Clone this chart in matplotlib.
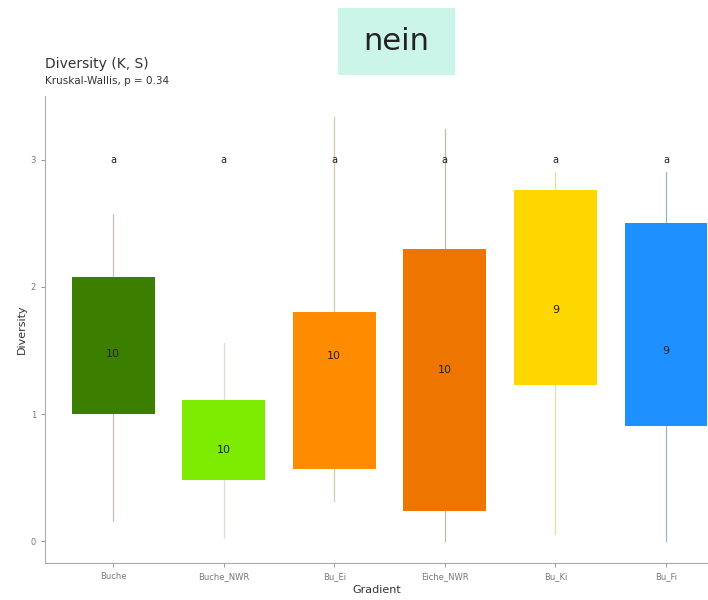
import matplotlib
matplotlib.use("Agg")
import matplotlib.pyplot as plt
from matplotlib.patches import FancyBboxPatch

categories = ["Buche", "Buche_NWR", "Bu_Ei", "Eiche_NWR", "Bu_Ki", "Bu_Fi"]
colors = ["#3C7F00", "#7CEB00", "#FF8C00", "#EE7600", "#FFD700", "#1E90FF"]
whisker_colors = ["#c8c0b8", "#e0dcc8", "#d8c8b0", "#c8b8a8", "#ecdca0", "#a0b4c8"]
q1 = [1.00, 0.48, 0.57, 0.24, 1.23, 0.91]
q3 = [2.08, 1.11, 1.80, 2.30, 2.76, 2.50]
whislo = [0.16, 0.03, 0.32, 0.00, 0.06, 0.00]
whishi = [2.57, 1.56, 3.34, 3.24, 2.90, 2.90]
n_labels = ["10", "10", "10", "10", "9", "9"]
n_y = [1.47, 0.72, 1.46, 1.35, 1.82, 1.50]
letters = ["a", "a", "a", "a", "a", "a"]
letter_y = 3.0

fig = plt.figure(figsize=(7.08, 6.0), dpi=100)
ax = fig.add_axes([0.0636, 0.0617, 0.9364, 0.778])

pos = list(range(1, len(categories) + 1))
stats = []
for i in range(len(categories)):
    med = (q1[i] + q3[i]) / 2
    stats.append(dict(med=med, q1=q1[i], q3=q3[i], whislo=whislo[i], whishi=whishi[i], fliers=[]))

bp = ax.bxp(stats, positions=pos, widths=0.75, patch_artist=True, showcaps=False,
            showfliers=False, medianprops=dict(visible=False),
            boxprops=dict(linewidth=0), whiskerprops=dict(linewidth=0.9))
for i, b in enumerate(bp["boxes"]):
    b.set_facecolor(colors[i])
    b.set_edgecolor(colors[i])
for i in range(len(categories)):
    for w in bp["whiskers"][2 * i:2 * i + 2]:
        w.set_color(whisker_colors[i])
        w.set_zorder(1)

for i in range(len(categories)):
    ax.text(pos[i], n_y[i], n_labels[i], ha="center", va="center", fontsize=8, color="#222222")
    ax.text(pos[i], letter_y, letters[i], ha="center", va="center", fontsize=7, color="#222222")

ax.set_xlim(0.385, 6.38)
ax.set_ylim(-0.17, 3.5)
ax.set_xticks(pos)
ax.set_xticklabels(categories)
ax.set_yticks([0, 1, 2, 3])
ax.tick_params(axis="both", labelsize=6, colors="#888888", length=3, width=0.6)
for lab in ax.get_xticklabels() + ax.get_yticklabels():
    lab.set_color("#777777")
ax.spines["top"].set_visible(False)
ax.spines["right"].set_visible(False)
ax.spines["left"].set_color("#aaaaaa")
ax.spines["bottom"].set_color("#aaaaaa")
ax.set_xlabel("Gradient", fontsize=8, color="#333333", labelpad=3)
ax.set_ylabel("Diversity", fontsize=8, color="#333333", labelpad=3)

fig.text(0.0636, 0.893, "Diversity (K, S)", fontsize=10, color="#333333", ha="left", va="center")
fig.text(0.0636, 0.865, "Kruskal-Wallis, p = 0.34", fontsize=7.5, color="#333333", ha="left", va="center")

fig.patches.append(FancyBboxPatch((338 / 708, 1 - 75 / 600), 117 / 708, 67 / 600,
                                  boxstyle="square,pad=0", transform=fig.transFigure,
                                  facecolor="#CBF5E8", edgecolor="none"))
fig.text(396 / 708, 1 - 41 / 600, "nein", fontsize=22, color="#222222", ha="center", va="center")

fig.savefig("out.png", dpi=100)
